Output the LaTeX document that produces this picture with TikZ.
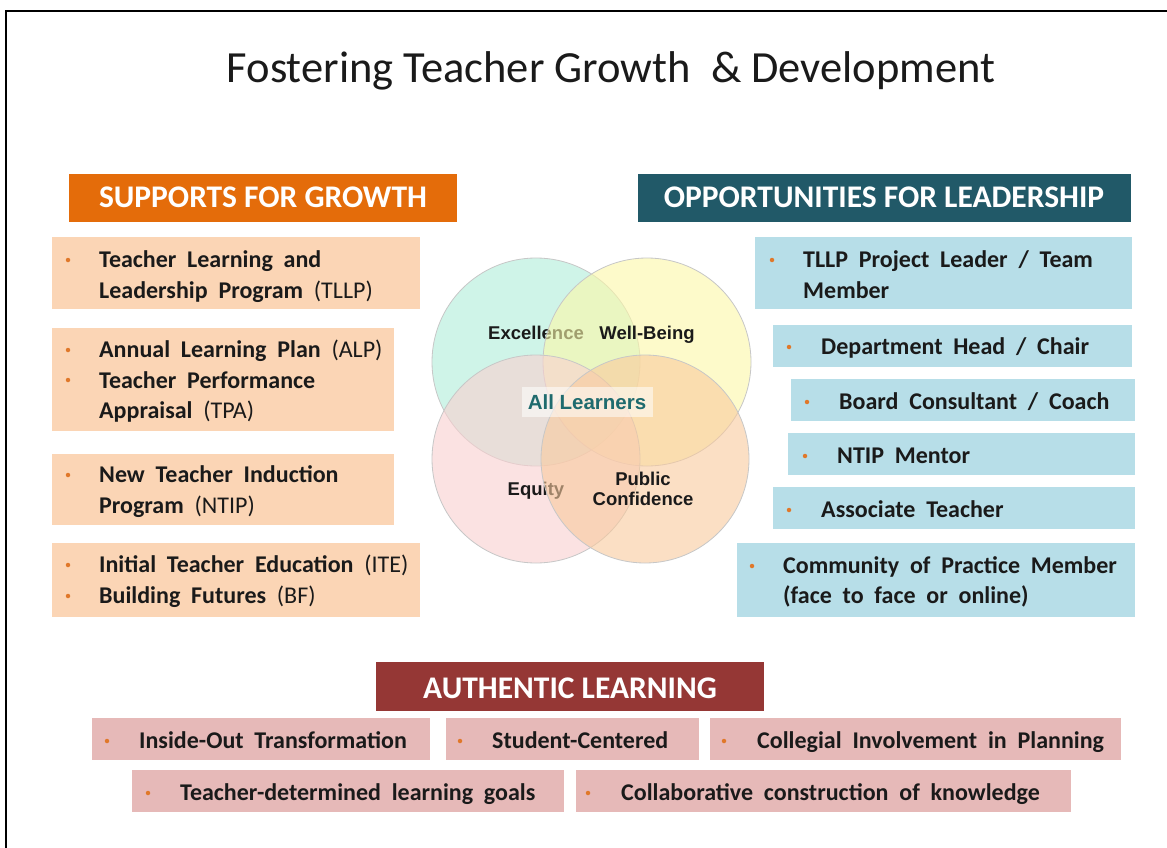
\documentclass[tikz,border=0pt]{standalone}
\usepackage{fontspec}
\setmainfont{Carlito}
\newfontfamily\vennfont{Liberation Sans}
\definecolor{ink}{HTML}{1A1A1A}
\definecolor{bulc}{HTML}{E0782A}
\definecolor{peachbox}{HTML}{FBD5B5}
\definecolor{bluebox}{HTML}{B7DEE8}
\definecolor{pinkbox}{HTML}{E6B9B8}
\definecolor{hdorange}{HTML}{E46C0A}
\definecolor{hdteal}{HTML}{215968}
\definecolor{hdred}{HTML}{953735}
\definecolor{vgreen}{HTML}{AFEEDA}
\definecolor{vyellow}{HTML}{FCF8A8}
\definecolor{vpink}{HTML}{F9D0D0}
\definecolor{vpeach}{HTML}{F9CA9D}
\definecolor{allteal}{HTML}{1F6B6E}
\newcommand{\plain}[1]{{\mdseries #1}}
% bold item text with the wide word gaps of the list entries
\newcommand{\itemfont}{\fontsize{24}{28}\selectfont\bfseries\spaceskip=0.45em\relax}
\tikzset{
  panel/.style={anchor=north west, inner sep=0pt, outer sep=0pt, draw=none},
  leftbox/.style={panel, fill=peachbox},
  rightbox/.style={panel, fill=bluebox},
  lowbox/.style={panel, fill=pinkbox},
  header/.style={panel},
  hdtext/.style={anchor=base, inner sep=0pt, text=white, font=\fontsize{31.5}{36}\selectfont\bfseries},
  item/.style={anchor=base west, inner sep=0pt, text=ink, font=\itemfont},
  bul/.style={circle, fill=bulc, inner sep=0pt, minimum size=4.5pt},
  venn/.style={circle, inner sep=0pt, minimum size=208pt, fill opacity=0.6, draw=black!22, line width=0.8pt},
  vlabel/.style={anchor=base, inner sep=0pt, text=ink, font=\vennfont\fontsize{18.5}{21}\selectfont\bfseries, align=center},
}
\begin{document}
\begin{tikzpicture}[x=1pt, y=-1pt]
\useasboundingbox (0,0) rectangle (1167,848);
\fill[white] (0,0) rectangle (1167,848);
% frame
\draw[line width=2pt] (6,848) -- (6,11) -- (1167,11);

% title
\node[anchor=base, inner sep=0pt, text=ink, font=\fontsize{44.5}{52}\selectfont] (title) at (611,83) {Fostering Teacher Growth \ \& Development};

% ---- supports for growth
\node[header, fill=hdorange, minimum width=388pt, minimum height=48pt] (hs) at (69,174) {};
\node[hdtext] (hst) at (263,207) {SUPPORTS FOR GROWTH};

\node[leftbox, minimum width=368pt, minimum height=72pt] (s1) at (52,237) {};
\node[bul] (s1b) at (68,260) {};
\node[item] (s1a) at (99,267) {Teacher Learning and};
\node[item] (s1c) at (99,298) {Leadership Program \plain{(TLLP)}};

\node[leftbox, minimum width=342pt, minimum height=103pt] (s2) at (52,328) {};
\node[bul] (s2b1) at (68,350) {};
\node[bul] (s2b2) at (68,380) {};
\node[item] (s2a) at (99,357) {Annual Learning Plan \plain{(ALP)}};
\node[item] (s2c) at (99,388) {Teacher Performance};
\node[item] (s2d) at (99,418) {Appraisal \plain{(TPA)}};

\node[leftbox, minimum width=342pt, minimum height=71pt] (s3) at (52,454) {};
\node[bul] (s3b) at (68,475) {};
\node[item] (s3a) at (99,482) {New Teacher Induction};
\node[item] (s3c) at (99,513) {Program \plain{(NTIP)}};

\node[leftbox, minimum width=368pt, minimum height=74pt] (s4) at (52,543) {};
\node[bul] (s4b1) at (68,565) {};
\node[bul] (s4b2) at (68,596) {};
\node[item] (s4a) at (99,572) {Initial Teacher Education \plain{(ITE)}};
\node[item] (s4c) at (99,603) {Building Futures \plain{(BF)}};

% ---- opportunities for leadership
\node[header, fill=hdteal, minimum width=493pt, minimum height=48pt] (ho) at (638,174) {};
\node[hdtext] (hot) at (884,207) {OPPORTUNITIES FOR LEADERSHIP};

\node[rightbox, minimum width=377pt, minimum height=72pt] (r1) at (755,237) {};
\node[bul] (r1b) at (772,260) {};
\node[item] (r1a) at (803,267) {TLLP Project Leader / Team};
\node[item] (r1c) at (803,298) {Member};

\node[rightbox, minimum width=359pt, minimum height=42pt] (r2) at (773,325) {};
\node[bul] (r2b) at (789,347) {};
\node[item] (r2a) at (821,354) {Department Head / Chair};

\node[rightbox, minimum width=344pt, minimum height=42pt] (r3) at (791,379) {};
\node[bul] (r3b) at (807,402) {};
\node[item] (r3a) at (839,409) {Board Consultant / Coach};

\node[rightbox, minimum width=347pt, minimum height=42pt] (r4) at (788,433) {};
\node[bul] (r4b) at (805,456) {};
\node[item] (r4a) at (837,463) {NTIP Mentor};

\node[rightbox, minimum width=362pt, minimum height=42pt] (r5) at (773,487) {};
\node[bul] (r5b) at (789,510) {};
\node[item] (r5a) at (821,517) {Associate Teacher};

\node[rightbox, minimum width=398pt, minimum height=74pt] (r6) at (737,543) {};
\node[bul] (r6b) at (752,566) {};
\node[item] (r6a) at (783,573) {Community of Practice Member};
\node[item] (r6c) at (783,603) {(face to face or online)};

% ---- venn diagram
\node[venn, fill=vgreen] (c1) at (536,362) {};
\node[vlabel] (excel) at (536,339) {Excellence};
\node[venn, fill=vyellow] (c2) at (647,362) {};
\node[vlabel] (well) at (647,339) {Well-Being};
\node[venn, fill=vpink] (c3) at (536,459) {};
\node[vlabel] (equity) at (536,495) {Equity};
\node[venn, fill=vpeach] (c4) at (645,459) {};
\node[vlabel] (public) at (643,485) {Public};
\node[vlabel] (confid) at (643,505) {Confidence};
\node[panel, fill=white, fill opacity=0.55, minimum width=131pt, minimum height=30pt] (allbox) at (522,387) {};
\node[vlabel, text=allteal, font=\vennfont\fontsize{20.5}{24}\selectfont\bfseries] (all) at (587,409) {All Learners};

% ---- authentic learning
\node[header, fill=hdred, minimum width=388pt, minimum height=49pt] (ha) at (376,662) {};
\node[hdtext] (hat) at (570,698) {AUTHENTIC LEARNING};

\node[lowbox, minimum width=338pt, minimum height=42pt] (a1) at (92,718) {};
\node[bul] (a1b) at (107,741) {};
\node[item] (a1a) at (139,748) {Inside-Out Transformation};

\node[lowbox, minimum width=253pt, minimum height=42pt] (a2) at (446,718) {};
\node[bul] (a2b) at (460,741) {};
\node[item] (a2a) at (492,748) {Student-Centered};

\node[lowbox, minimum width=411pt, minimum height=42pt] (a3) at (710,718) {};
\node[bul] (a3b) at (724,741) {};
\node[item] (a3a) at (757,748) {Collegial Involvement in Planning};

\node[lowbox, minimum width=432pt, minimum height=42pt] (a4) at (132,770) {};
\node[bul] (a4b) at (148,793) {};
\node[item] (a4a) at (180,800) {Teacher-determined learning goals};

\node[lowbox, minimum width=495pt, minimum height=42pt] (a5) at (576,770) {};
\node[bul] (a5b) at (588,793) {};
\node[item] (a5a) at (621,800) {Collaborative construction of knowledge};
\end{tikzpicture}
\end{document}
